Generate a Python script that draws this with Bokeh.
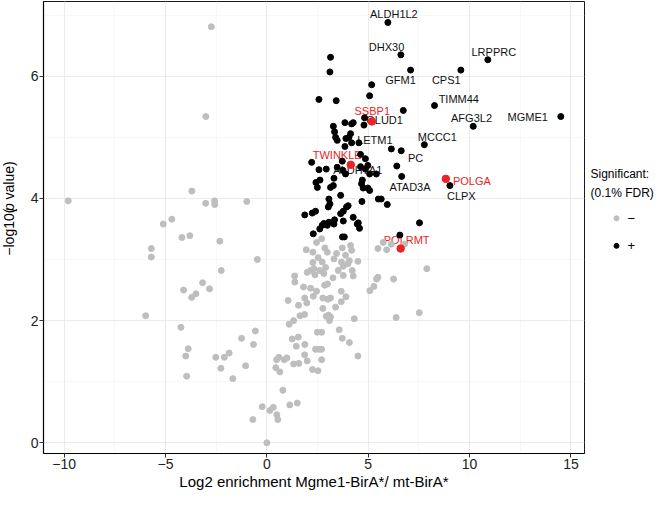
from bokeh.plotting import figure
from bokeh.models import Range1d, FixedTicker
from bokeh.layouts import row
from bokeh.embed import file_html
from bokeh.resources import INLINE
from bokeh.core.properties import value
from math import pi

FONT = "Liberation Sans"

# ---------------- data ----------------
# not significant (grey)
grey_x = [-2.74, -3.01, -9.80, -3.70, -3.02, -2.58, -2.57, -0.99, -5.11, -4.69,
          -4.19, -3.80, -2.32, -5.70, -5.70, -0.47, -2.25, -3.17, -4.11, -3.50,
          -3.71, -2.83, -5.98, -4.24, -0.57, -1.25, -0.66, -3.88, -4.00, -2.52,
          -2.10, -1.86, -1.05, -2.27, -1.68, -3.96, -0.23, 0.15, 0.32, 0.49,
          0.54, -0.69, 0.00, 0.79, 1.13, 1.50, 0.44, 0.64, 0.48, 0.59,
          0.86, 0.99, 1.32, 1.58, 1.25, 1.55, 1.45, 1.10, 1.32, 1.05,
          1.56, 1.63, 1.37, 1.38,
          1.86, 1.81, 2.16, 1.87, 1.97, 2.29, 2.45, 2.76, 3.01, 3.14,
          2.76, 2.93, 3.04, 3.14, 3.09, 3.39, 3.67, 3.67, 3.90, 4.31,
          3.57, 3.72, 4.07, 4.49, 2.49, 2.70, 1.87, 1.86, 1.99, 2.40,
          2.57, 2.70, 2.70, 2.25, 2.52, 5.08, 5.28, 5.41, 5.48, 6.25,
          7.89, 6.38, 7.52,
          2.27, 2.73, 2.90, 2.32, 2.16, 1.99, 2.37, 2.61, 2.81, 3.52,
          3.77, 4.00, 4.07, 4.21, 4.26, 3.77, 3.26, 4.49, 2.85,
          2.99, 2.70, 2.45, 1.94, 2.27, 2.86, 2.98, 2.53, 3.31, 3.44,
          3.72, 4.13, 4.18, 3.88, 3.68, 5.48, 5.74, 5.91, 6.14, 6.79]
grey_y = [6.81, 5.34, 3.96, 4.12, 3.92, 3.96, 3.90, 3.95, 3.58, 3.66,
          3.36, 3.39, 3.30, 3.18, 3.04, 3.00, 2.82, 2.62, 2.50, 2.44,
          2.38, 2.52, 2.08, 1.89, 1.83, 1.71, 1.61, 1.54, 1.42, 1.40,
          1.40, 1.47, 1.26, 1.22, 1.05, 1.09, 0.59, 0.53, 0.58, 0.46,
          0.38, 0.38, 0.00, 0.86, 0.62, 0.65, 1.23, 1.16, 1.36, 1.40,
          1.36, 1.39, 1.29, 1.30, 1.70, 1.73, 1.58, 1.94, 2.00, 2.33,
          2.25, 2.08, 2.73, 2.63,
          2.10, 2.55, 2.53, 2.37, 2.29, 2.40, 2.48, 2.37, 2.35, 2.37,
          2.20, 2.07, 2.09, 2.06, 2.00, 2.22, 2.48, 2.31, 2.39, 2.03,
          1.85, 1.71, 1.64, 1.42, 1.81, 1.81, 1.61, 1.44, 1.34, 1.53,
          1.53, 1.53, 1.36, 1.20, 1.18, 2.49, 2.56, 2.68, 2.71, 2.68,
          2.85, 2.05, 2.13,
          2.95, 2.96, 2.87, 2.85, 2.82, 2.79, 2.75, 2.82, 2.77, 2.82,
          2.89, 2.93, 2.98, 2.82, 2.73, 2.74, 2.70, 2.97, 2.58,
          2.60, 3.34, 3.28, 3.16, 3.12, 3.19, 3.12, 3.03, 3.01, 3.10,
          3.19, 3.23, 3.15, 3.07, 2.96, 3.18, 3.28, 3.16, 3.25, 3.25]

# significant, unlabelled (black)
sig_x = [3.14, 3.11, 5.17, 5.07, 2.57, 3.42, 6.73, 4.79, 3.85,
         4.18, 4.26, 3.28, 3.34, 3.39, 3.47, 4.13, 4.05, 3.90,
         4.18, 3.85, 6.14, 6.41, 3.72, 4.62, 4.86, 2.21,
         2.57, 2.93, 3.47, 3.75, 3.88, 4.98, 4.86, 5.07, 5.40, 2.42,
         2.62, 2.49, 3.14, 3.28, 3.31, 4.71, 4.67, 4.75, 4.98, 5.07,
         3.64, 3.06, 3.11, 3.03, 4.69, 5.50, 5.64, 5.94, 1.87, 2.24,
         2.40, 2.81, 2.73, 2.61, 2.29, 2.98, 3.06, 3.34, 3.31, 3.64,
         3.77, 3.93, 4.01, 3.77, 4.26, 4.46, 4.57, 4.51, 3.73, 3.82,
         6.56, 7.53]
sig_y = [6.31, 6.07, 5.86, 5.68, 5.62, 5.60, 5.44, 5.20, 5.24,
         5.22, 5.24, 5.18, 5.09, 5.00, 4.95, 5.06, 5.00, 4.98,
         4.91, 4.85, 4.81, 4.53, 4.61, 4.72, 4.65, 4.59,
         4.47, 4.48, 4.51, 4.46, 4.40, 4.54, 4.48, 4.40, 4.40, 4.26,
         4.30, 4.18, 4.18, 4.21, 4.33, 4.30, 4.24, 4.17, 4.17, 4.13,
         4.05, 3.99, 3.91, 3.86, 3.95, 3.99, 3.99, 3.90, 3.73, 3.76,
         3.79, 3.59, 3.56, 3.50, 3.42, 3.56, 3.61, 3.65, 3.58, 3.75,
         3.79, 3.86, 3.88, 3.63, 3.69, 3.58, 3.51, 3.60, 3.37, 3.37,
         3.40, 3.60]

# significant, labelled (black)
lab_gene = ["ALDH1L2", "DHX30", "LRPPRC", "GFM1", "CPS1", "TIMM44", "AFG3L2",
            "MGME1", "MCCC1", "PC", "ATAD3A", "CLPX", "GLUD1", "LETM1", "ALDH7A1"]
lab_x = [5.97, 6.61, 10.90, 7.09, 9.57, 8.27, 10.18, 14.50, 7.77, 6.63, 6.65, 9.03,
         4.82, 4.54, 4.62]
lab_y = [6.88, 6.35, 6.27, 6.10, 6.10, 5.52, 5.18, 5.34, 4.88, 4.78, 4.36, 4.21,
         5.32, 4.91, 4.52]

# highlighted (red)
hl_gene = ["SSBP1", "TWINKLE", "POLGA", "POLRMT"]
hl_x = [5.18, 4.14, 8.83, 6.60]
hl_y = [5.26, 4.55, 4.32, 3.18]

x_ticks = [-10, -5, 0, 5, 10, 15]
x_minor = [-7.5, -2.5, 2.5, 7.5, 12.5]
x_tick_labels = ["\u221210", "\u22125", "0", "5", "10", "15"]
y_ticks = [0, 2, 4, 6]
y_minor = [1, 3, 5, 7]

x_title = "Log2 enrichment Mgme1-BirA*/ mt-BirA*"
legend_title = ["Significant:", "(0.1% FDR)"]
legend_labels = ["\u2212", "+"]

# ---------------- layout / style ----------------
GREY = "#BEBEBE"
BLACK = "#000000"
RED = "#EE2222"
H = 492

lab_dx = [6, -14.3, 6, -10, -14.6, 24.3, -1.7, -33, 13, 14.3, 8.3, 11.4, 20, 16, -2.7]
lab_dy = [-8.4, -7.6, -7.6, 10.3, 10.3, -6.3, -8, 0.4, -7.6, 7.3, 10.4, 10, 2.7, -3, 3.2]
hl_dx = [0.4, -13.6, 26, 6]
hl_dy = [-10.7, -9.7, 1.7, -8.3]

p = figure(width=560, height=H, x_range=Range1d(-11.02, 15.67), y_range=Range1d(-0.175, 7.223),
           output_backend="svg", toolbar_location=None,
           min_border_left=17, min_border_right=2, min_border_top=1, min_border_bottom=39)
p.background_fill_color = "white"
p.border_fill_color = "white"
p.outline_line_color = "#1a1a1a"
p.outline_line_width = 1

p.xaxis.ticker = FixedTicker(ticks=x_ticks, minor_ticks=x_minor)
p.yaxis.ticker = FixedTicker(ticks=y_ticks, minor_ticks=y_minor)
p.xaxis.major_label_overrides = {t: l for t, l in zip(x_ticks, x_tick_labels)}

for g in (p.xgrid, p.ygrid):
    g.grid_line_color = "#EBEBEB"
    g.grid_line_width = 1.1
    g.minor_grid_line_color = "#F3F3F3"
    g.minor_grid_line_width = 0.6

p.axis.axis_line_color = "black"
p.axis.axis_line_width = 1.2
p.axis.major_tick_line_color = "#333333"
p.axis.major_tick_out = 4
p.axis.major_tick_in = 0
p.axis.minor_tick_line_color = None
p.axis.major_label_text_font = FONT
p.axis.major_label_text_font_size = "14px"
p.axis.major_label_text_color = "#222222"
p.axis.major_label_standoff = 1
p.xaxis.axis_label = x_title
p.xaxis.axis_label_text_font = FONT
p.xaxis.axis_label_text_font_size = "15px"
p.xaxis.axis_label_text_font_style = "normal"
p.xaxis.axis_label_text_color = "black"
p.xaxis.axis_label_standoff = 1

# labels (drawn under the points)
p.text(x=lab_x, y=lab_y, text=lab_gene, x_offset=lab_dx, y_offset=lab_dy,
       text_font=value(FONT), text_font_size="11px", text_align="center",
       text_baseline="middle", text_color="#111111")
p.text(x=hl_x, y=hl_y, text=hl_gene, x_offset=hl_dx, y_offset=hl_dy,
       text_font=value(FONT), text_font_size="11px", text_align="center",
       text_baseline="middle", text_color=RED)

p.scatter(grey_x, grey_y, marker="circle", size=6, color=GREY)
p.scatter(sig_x, sig_y, marker="circle", size=6, color=BLACK)
p.scatter(lab_x, lab_y, marker="circle", size=6, color=BLACK)
p.scatter(hl_x, hl_y, marker="circle", size=7.5, color=RED)

# ---- left strip: y-axis title with italic p ----
LW = 26
lf = figure(width=LW, height=H, x_range=Range1d(0, LW), y_range=Range1d(0, H),
            x_axis_location=None, y_axis_location=None, toolbar_location=None,
            output_backend="svg", min_border=0)
lf.outline_line_color = None
lf.grid.visible = False
fs = 14
w1 = 3.363 * fs + 1.5
w2 = 0.556 * fs + 1.0
wsp = 0.278 * fs
w3 = 2.723 * fs
center = H - 227
y0 = center - (w1 + w2 + wsp + w3) / 2
lf.text(x=[8, 8], y=[y0, y0 + w1 + w2 + wsp], text=["\u2212log10(", "value)"], angle=pi / 2,
        text_font=value(FONT), text_font_size=f"{fs}px", text_align="left",
        text_baseline="middle", text_color="black")
lf.text(x=[8], y=[y0 + w1], text=["p"], angle=pi / 2, text_font_style="italic",
        text_font=value(FONT), text_font_size=f"{fs}px", text_align="left",
        text_baseline="middle", text_color="black")

# ---- right strip: legend ----
RW = 69
lg = figure(width=RW, height=H, x_range=Range1d(0, RW), y_range=Range1d(0, H),
            x_axis_location=None, y_axis_location=None, toolbar_location=None,
            output_backend="svg", min_border=0)
lg.outline_line_color = None
lg.grid.visible = False
lg.text(x=[4, 4], y=[304, 284], text=legend_title, text_font=value(FONT),
        text_font_size="12px", text_align="left", text_baseline="middle", text_color="black")
lg.scatter([30], [256], marker="circle", size=5, color=GREY)
lg.scatter([30], [226], marker="circle", size=5, color=BLACK)
lg.text(x=[41, 41], y=[256, 226], text=legend_labels, text_font=value(FONT),
        text_font_size="13px", text_align="left", text_baseline="middle", text_color="black")

layout = row(lf, p, lg)
open("out.html", "w").write(file_html(layout, INLINE))
